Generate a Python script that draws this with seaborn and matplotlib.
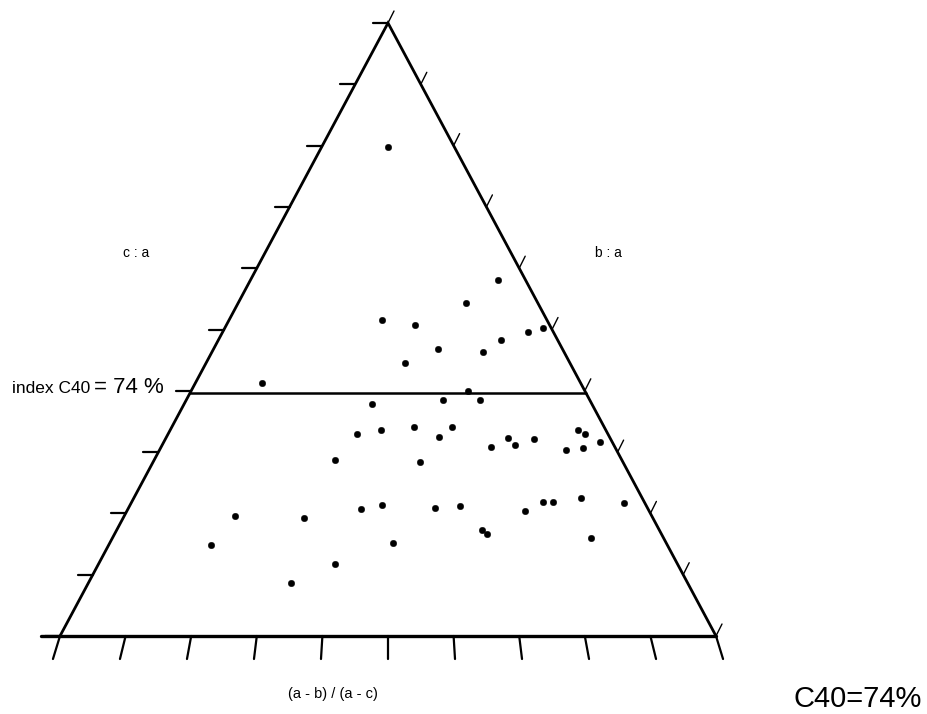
import numpy as np
import pandas as pd
import matplotlib
matplotlib.use("Agg")
import matplotlib.pyplot as plt
import seaborn as sns

# ---- data ----
# horizontal position along (a-b)/(a-c) axis (0..1) and height fraction (0 bottom .. 1 apex)
pt_x = [0.5000, 0.6682, 0.6189, 0.4914, 0.5417, 0.7130, 0.7368, 0.6727, 0.5762, 0.6443,
        0.5259, 0.3079, 0.6224, 0.5844, 0.6402, 0.4756, 0.4527, 0.4898, 0.5393, 0.5979,
        0.5777, 0.6570, 0.6829, 0.6936, 0.7226, 0.7892, 0.8008, 0.7709, 0.7973, 0.8232,
        0.4187, 0.5488, 0.8593, 0.7942, 0.7368, 0.7520, 0.7093, 0.6093, 0.5722, 0.4914,
        0.4593, 0.3715, 0.2668, 0.2302, 0.5081, 0.6438, 0.6505, 0.8095, 0.4187, 0.3526]
pt_y = [0.7982, 0.5803, 0.5427, 0.5155, 0.5068, 0.4963, 0.5024, 0.4824, 0.4677, 0.4637,
        0.4458, 0.4127, 0.3991, 0.3844, 0.3844, 0.3790, 0.3290, 0.3355, 0.3410, 0.3415,
        0.3247, 0.3084, 0.3231, 0.3121, 0.3220, 0.3360, 0.3290, 0.3029, 0.3067, 0.3165,
        0.2866, 0.2838, 0.2174, 0.2256, 0.2182, 0.2191, 0.2034, 0.2121, 0.2088, 0.2132,
        0.2067, 0.1920, 0.1953, 0.1490, 0.1517, 0.1734, 0.1664, 0.1599, 0.1174, 0.0864]
index_level = 0.396          # height of the C40 index line
index_text = "= 74 %"
n_ticks = 10
left_label = "c : a"
right_label = "b : a"
bottom_label = "(a - b) / (a - c)"
corner_label = "C40=74%"

df = pd.DataFrame({"x": pt_x, "y": pt_y})

sns.set_style("white")
plt.rcParams['font.family'] = ['Liberation Sans', 'DejaVu Sans']
plt.rcParams['text.color'] = 'black'

W, H = 928, 714
fig = plt.figure(figsize=(W / 100, H / 100), dpi=100)
ax = fig.add_axes([0, 0, 1, 1])

# pixel scale of the triangle
PX_W, PX_H = 656.0, 613.0
x0px, y0px = 60.0, 636.0

def px(dx):  # pixels -> data units (x)
    return dx / PX_W

def py(dy):  # pixels -> data units (y)
    return dy / PX_H

lw = 2.0
# triangle
ax.plot([0, 0.5, 1], [0, 1, 0], color="black", lw=lw, solid_joinstyle="miter", zorder=2)
ax.plot([px(-19), 1], [0, 0], color="black", lw=2.4, zorder=2)

def left_x(h):
    return 0.5 * h

def right_x(h):
    return 1 - 0.5 * h

# index line
ax.plot([left_x(index_level), right_x(index_level)], [index_level, index_level],
        color="black", lw=1.8, zorder=2)

# ticks
for k in range(n_ticks + 1):
    h = k / n_ticks
    lx = left_x(h)
    ax.plot([lx - px(15), lx], [h, h], color="black", lw=1.6, zorder=2)
    rx = right_x(h)
    ax.plot([rx, rx + px(6)], [h, h + py(12)], color="black", lw=1.0, zorder=2)
    bx = k / n_ticks
    off = (bx - 0.5) * PX_W * 0.0215
    ax.plot([bx, bx + px(off)], [0, -py(23)], color="black", lw=1.6, zorder=2)

# points
sns.scatterplot(data=df, x="x", y="y", color="black", s=22, marker="o",
                edgecolor="black", linewidth=0.3, ax=ax, zorder=3, legend=False)
ax.set_xlim(-x0px / PX_W, (W - x0px) / PX_W)
ax.set_ylim(-(H - y0px) / PX_H, y0px / PX_H)
ax.axis("off")

def fx(p):
    return p / W

def fy(p):
    return 1 - p / H

fig.text(fx(123), fy(253), left_label, fontsize=10, va="center", ha="left", color="black")
fig.text(fx(595), fy(253), right_label, fontsize=10, va="center", ha="left", color="black")
fig.text(fx(333), fy(694), bottom_label, fontsize=10.5, va="center", ha="center", color="black")
fig.text(fx(12), fy(389), "index C40", fontsize=12.5, va="center", ha="left", color="black")
fig.text(fx(94), fy(388), index_text, fontsize=16, va="center", ha="left", color="black")
fig.text(fx(922), fy(713), corner_label, fontsize=21, va="bottom", ha="right", color="black")

fig.savefig("out.png", dpi=100, facecolor="white")
